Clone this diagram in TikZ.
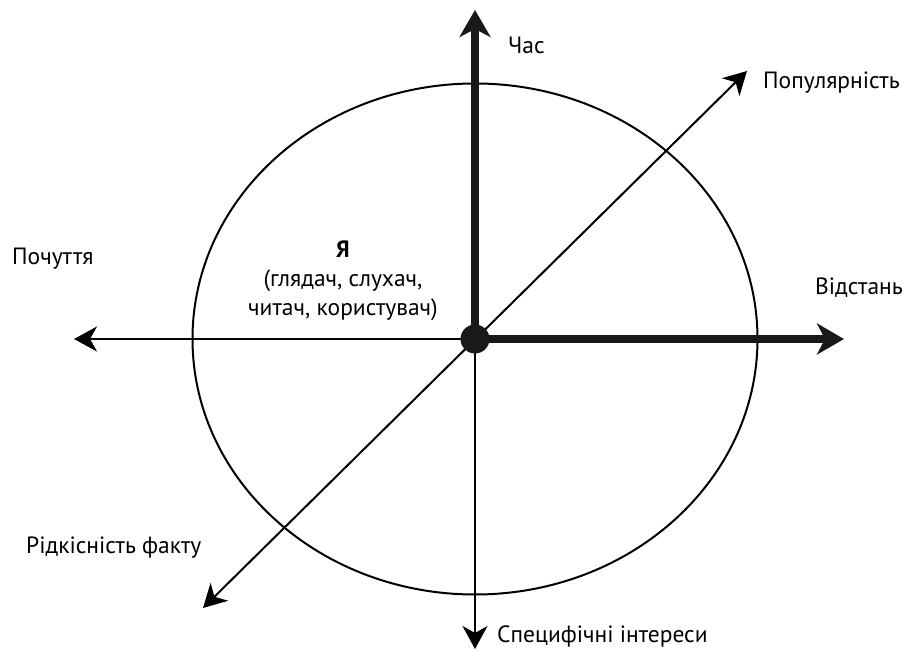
\documentclass[tikz,border=0pt]{standalone}
\usepackage{fontspec}
\setmainfont{PT Sans}
\usetikzlibrary{arrows.meta}

\begin{document}
\begin{tikzpicture}[
  x=1pt, y=-1pt, font=\fontsize{23.5}{29}\selectfont,
  tip/.tip={Stealth[length=23pt, width=25pt, inset=7pt]},
  axis/.style={line width=2pt, -tip},
  main/.style={line width=8pt, black!90, -{Stealth[length=27pt, width=31pt, inset=8pt]}},
  lbl/.style={inner sep=0pt, anchor=west},
]
\useasboundingbox (0,0) rectangle (907,652);
\coordinate (o) at (475,339);
\draw[line width=2pt] (o) ellipse [x radius=282.5, y radius=255.5];
% axis ends
\coordinate (up)    at (475,10);
\coordinate (right) at (844,339);
\coordinate (left)  at (74,339);
\coordinate (down)  at (475,649);
\coordinate (ne)    at (747,71);
\coordinate (sw)    at (203,608);
\draw[axis] (o) -- (left);
\draw[axis] (o) -- (down);
\draw[axis, tip-tip] (sw) -- (ne);
\draw[main] (o) -- (up);
\draw[main] (o) -- (right);
\node[circle, fill=black!90, minimum size=29pt, inner sep=0pt] (me) at (o) {};
% labels
\node[lbl] (time) at (508,45)  {Час};
\node[lbl] (pop)  at (763,83)  {Популярність};
\node[lbl] (dist) at (815,288) {Відстань};
\node[lbl] (feel) at (12,259)  {Почуття};
\node[lbl] (rare) at (26,548)  {Рідкісність факту};
\node[lbl] (spec) at (497,636) {Специфічні інтереси};
\node[align=center, inner sep=0pt] (self) at (343,281)
  {\textbf{Я}\\(глядач, слухач,\\читач, користувач)};
\end{tikzpicture}
\end{document}
